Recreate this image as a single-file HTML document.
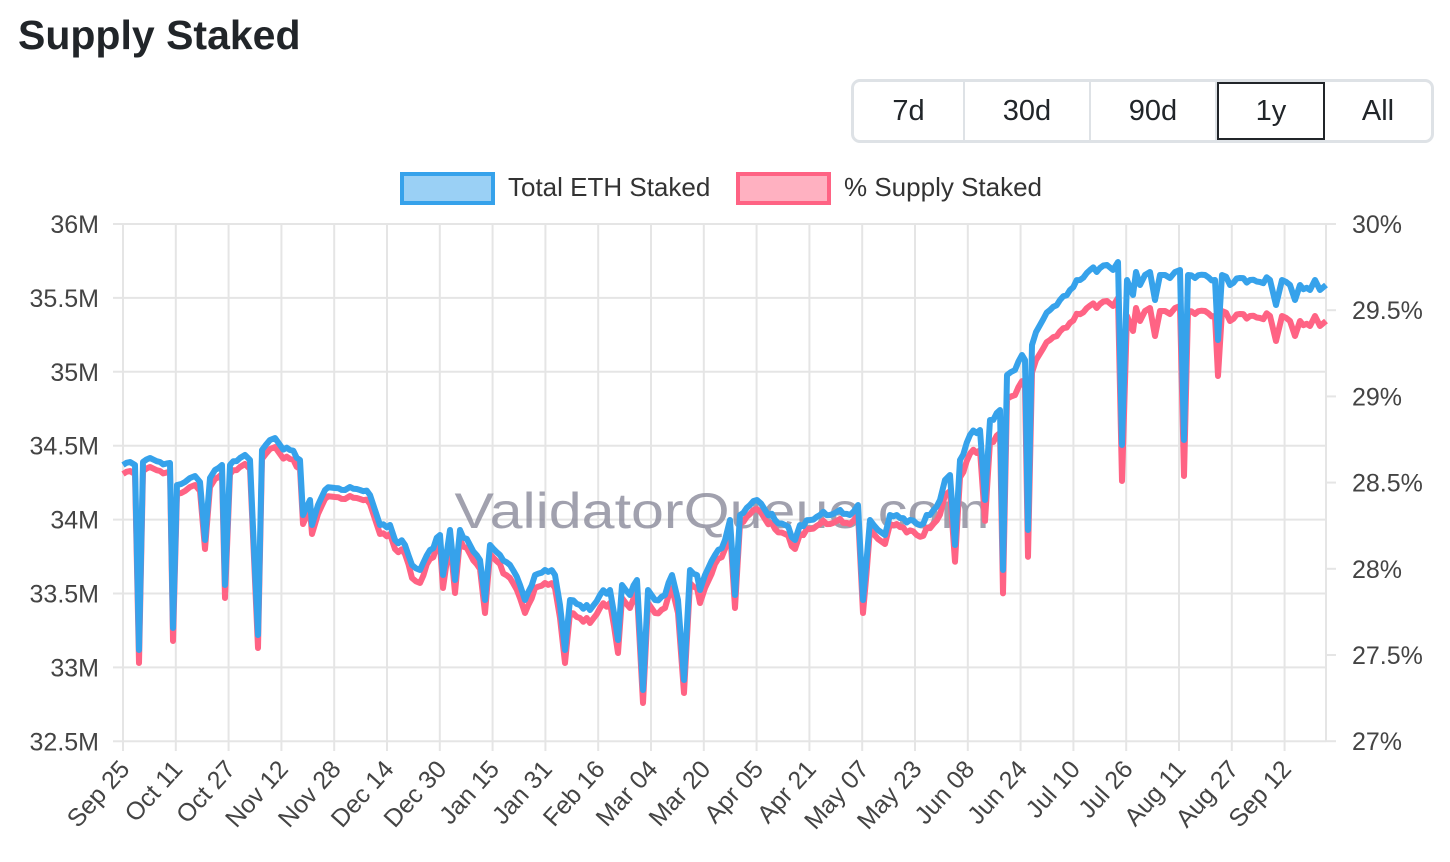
<!DOCTYPE html>
<html><head><meta charset="utf-8"><style>
body{margin:0;width:1450px;height:862px;background:#fff;font-family:"Liberation Sans",sans-serif;overflow:hidden;position:relative}
h1{position:absolute;left:18px;top:12px;margin:0;font-size:41px;font-weight:bold;color:#212529}
.btns{position:absolute;left:851px;top:79px;width:577px;height:58px;border:3px solid #dee2e6;border-radius:9px;display:flex;overflow:hidden}
.btns div{display:flex;align-items:center;justify-content:center;font-size:29px;color:#212529;border-right:2px solid #dee2e6;box-sizing:border-box}
.btns .a{border:2px solid #212529}
</style></head><body>
<h1>Supply Staked</h1>
<div class="btns"><div style="width:111px">7d</div><div style="width:126px">30d</div><div style="width:126px">90d</div><div class="a" style="width:108px">1y</div><div style="width:106px;border-right:none">All</div></div>
<svg width="1450" height="862" style="position:absolute;left:0;top:0" font-family="Liberation Sans, sans-serif">
<rect x="402" y="174" width="91" height="29" fill="#9ad0f5" stroke="#36a2eb" stroke-width="4"/>
<text x="508" y="196" font-size="26" fill="#333">Total ETH Staked</text>
<rect x="738" y="174" width="91" height="29" fill="#ffb1c1" stroke="#ff6384" stroke-width="4"/>
<text x="844" y="196" font-size="26" fill="#333">% Supply Staked</text>
<g id="grid" stroke="#e5e5e5" stroke-width="2"></g>
<g id="lab" font-size="25" fill="#444"></g>
<text x="722" y="528" font-size="50" fill="#8a8a9a" fill-opacity="0.8" text-anchor="middle" textLength="535" lengthAdjust="spacingAndGlyphs">ValidatorQueue.com</text>
<path id="pk" fill="none" stroke="#ff6384" stroke-width="6" stroke-linejoin="round"/>
<path id="bl" fill="none" stroke="#36a2eb" stroke-width="6" stroke-linejoin="round"/>
</svg>
<script>
var ns="http://www.w3.org/2000/svg",g=document.getElementById('grid'),lab=document.getElementById('lab');
function el(p,t,a,txt){var e=document.createElementNS(ns,t);for(var k in a)e.setAttribute(k,a[k]);if(txt)e.textContent=txt;p.appendChild(e);return e}
var L=['36M','35.5M','35M','34.5M','34M','33.5M','33M','32.5M'],R=['30%','29.5%','29%','28.5%','28%','27.5%','27%'];
for(var i=0;i<8;i++){var y=224+i*73.9;el(g,'line',{x1:113,x2:1326,y1:y,y2:y});el(lab,'text',{x:99,y:y+9,'text-anchor':'end'},L[i]);}
for(var i=0;i<7;i++){var y=224+i*86.2;el(g,'line',{x1:1326,x2:1336,y1:y,y2:y});el(lab,'text',{x:1352,y:y+9},R[i]);}
var X=['Sep 25','Oct 11','Oct 27','Nov 12','Nov 28','Dec 14','Dec 30','Jan 15','Jan 31','Feb 16','Mar 04','Mar 20','Apr 05','Apr 21','May 07','May 23','Jun 08','Jun 24','Jul 10','Jul 26','Aug 11','Aug 27','Sep 12'];
for(var i=0;i<X.length;i++){var x=123+i*52.8;el(g,'line',{x1:x,x2:x,y1:224,y2:751});el(lab,'text',{x:x+8,y:770,'text-anchor':'end',transform:'rotate(-48 '+(x+8)+' 770)','font-size':'25'},X[i]);}
el(g,'line',{x1:1326,x2:1326,y1:224,y2:741});
var P=[123,465,130,462,135,465,139,650,143,462,150,458,160,462,170,463,173,628,177,485,185,482,190,478,195,476,200,482,205,540,210,478,215,470,222,465,225,585,230,465,240,458,245,455,250,460,258,635,262,450,270,440,275,438,280,445,290,450,300,460,303,515,310,500,312,525,318,505,325,490,335,488,345,490,350,487,360,490,370,495,375,510,380,525,390,525,395,540,405,545,412,565,420,570,430,550,440,535,443,575,450,530,455,580,460,530,470,545,480,560,485,600,490,545,500,555,510,565,520,585,525,600,535,575,545,570,555,575,560,605,565,650,570,600,580,605,590,610,600,595,610,590,618,640,622,585,630,595,637,580,643,690,648,590,655,600,665,595,672,575,678,600,684,680,690,570,697,575,700,590,705,575,715,555,725,540,730,520,735,595,740,515,750,505,757,500,765,510,775,520,785,525,795,540,800,525,810,520,820,515,830,515,840,510,850,515,858,505,863,600,870,520,878,530,885,535,890,515,900,518,910,520,920,525,930,515,940,500,945,480,950,475,955,545,960,460,970,435,980,430,985,500,990,420,1000,410,1003,570,1007,375,1015,370,1022,355,1025,360,1028,530,1032,345,1040,325,1050,310,1060,300,1070,290,1080,280,1090,270,1100,268,1107,265,1113,270,1118,262,1122,445,1127,280,1133,295,1136,272,1140,285,1145,275,1150,272,1155,300,1160,275,1165,275,1170,278,1175,272,1180,270,1184,440,1188,275,1195,278,1205,275,1215,280,1218,340,1222,275,1230,285,1240,278,1250,280,1260,282,1270,280,1276,305,1282,280,1290,285,1295,300,1300,285,1310,290,1315,280,1320,290,1326,285];
function off(x){return x<900?9:Math.min(36,9+(x-900)*0.14)}
var pts=[];
for(var i=0;i<P.length-2;i+=2){var x0=P[i],y0=P[i+1],x1=P[i+2],y1=P[i+3];pts.push([x0,y0]);
 var n=Math.floor((x1-x0)/3.3);for(var k=1;k<n;k++){var x=x0+(x1-x0)*k/n;var y=y0+(y1-y0)*k/n+3.5*Math.sin(x*1.7)*Math.cos(x*0.61);pts.push([x,y]);}}
pts.push([P[P.length-2],P[P.length-1]]);
var b='',p='';
pts.forEach(function(q,i){var x=q[0],y=q[1];b+=(i?'L':'M')+x.toFixed(1)+' '+y.toFixed(1);p+=(i?'L':'M')+x.toFixed(1)+' '+(y+off(x)+(y>560&&x<900?4:0)).toFixed(1);});
document.getElementById('bl').setAttribute('d',b);document.getElementById('pk').setAttribute('d',p);
</script>
</body></html>
